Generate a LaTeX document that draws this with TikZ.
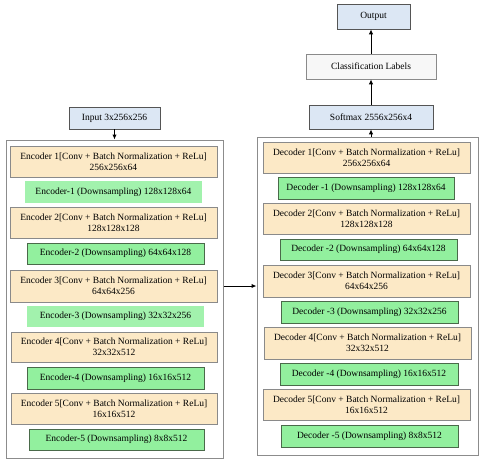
\documentclass[tikz,border=0pt]{standalone}
\usepackage{fontspec}
\setmainfont{Liberation Serif}
\usetikzlibrary{arrows.meta}
\definecolor{encfill}{HTML}{FCE9C6}
\definecolor{encdraw}{HTML}{8A8A8A}
\definecolor{grnfill}{HTML}{92F09E}
\definecolor{grndraw}{HTML}{4A6A4A}
\definecolor{blufill}{HTML}{DCE7F4}
\definecolor{bludraw}{HTML}{555555}
\definecolor{outdraw}{HTML}{8C8C8C}
\tikzset{
  base/.style={inner sep=0pt, align=center, font=\fontsize{9.5}{11}\selectfont},
  enc/.style={base, fill=encfill, draw=encdraw, line width=0.7pt, minimum width=207pt, minimum height=31pt},
  grn/.style={base, fill=grnfill, draw=grndraw, line width=0.6pt, minimum width=177pt, minimum height=22pt},
  grnlite/.style={base, fill=grnfill!85!white, draw=none, minimum width=177pt, minimum height=22pt},
  blu/.style={base, fill=blufill, draw=bludraw, line width=0.7pt},
  outer/.style={draw=outdraw, line width=1pt, fill=white, inner sep=0pt},
  arr/.style={-{Latex[length=5pt,width=4.5pt]}, line width=1pt, black}
}
\begin{document}
\begin{tikzpicture}[x=1pt,y=-1pt]
\useasboundingbox (0,0) rectangle (480,459);
% left column
\node[outer, minimum width=217pt, minimum height=318pt] (outerL) at (114.5,299) {};
\node[blu, minimum width=91pt, minimum height=22pt] (input) at (114.5,118) {Input 3x256x256};
\node[enc] (e1) at (113.5,161.5) {Encoder 1[Conv + Batch Normalization + ReLu]\\256x256x64};
\node[grnlite] (g1) at (113.5,192) {Encoder-1 (Downsampling) 128x128x64};
\node[enc] (e2) at (113.5,222.5) {Encoder 2[Conv + Batch Normalization + ReLu]\\128x128x128};
\node[grn, minimum height=21pt] (g2) at (115.5,253.5) {Encoder-2 (Downsampling) 64x64x128};
\node[enc, minimum height=32pt] (e3) at (113.5,286) {Encoder 3[Conv + Batch Normalization + ReLu]\\64x64x256};
\node[grnlite, minimum height=21pt] (g3) at (115.5,316.5) {Encoder-3 (Downsampling) 32x32x256};
\node[enc, minimum width=206pt, minimum height=30pt] (e4) at (114,347) {Encoder 4[Conv + Batch Normalization + ReLu]\\32x32x512};
\node[grn] (g4) at (115.5,378) {Encoder-4 (Downsampling) 16x16x512};
\node[enc, minimum width=206pt] (e5) at (114,408.5) {Encoder 5[Conv + Batch Normalization + ReLu]\\16x16x512};
\node[grn, minimum width=175pt, minimum height=21pt] (g5) at (116.5,439.5) {Encoder-5 (Downsampling) 8x8x512};
% right column
\node[outer, minimum width=221pt, minimum height=318pt] (outerR) at (367.5,296) {};
\node[blu, minimum width=73pt, minimum height=25pt] (output) at (373.5,16.5) {Output};
\node[base, fill=gray!6, draw=encdraw, line width=0.7pt, minimum width=130pt, minimum height=25pt] (class) at (371,66.5) {Classification Labels};
\node[blu, minimum width=124pt, minimum height=24pt] (softmax) at (371,117) {Softmax 2556x256x4};
\node[enc] (d1) at (366.5,157.5) {Decoder 1[Conv + Batch Normalization + ReLu]\\256x256x64};
\node[grn, minimum width=176pt] (dg1) at (366,188) {Decoder -1 (Downsampling) 128x128x64};
\node[enc] (d2) at (366.5,218.5) {Decoder 2[Conv + Batch Normalization + ReLu]\\128x128x128};
\node[grn, minimum height=21pt] (dg2) at (368.5,249.5) {Decoder -2 (Downsampling) 64x64x128};
\node[enc, minimum height=32pt] (d3) at (366.5,281) {Decoder 3[Conv + Batch Normalization + ReLu]\\64x64x256};
\node[grn] (dg3) at (369.5,312) {Decoder -3 (Downsampling) 32x32x256};
\node[enc, minimum height=32pt] (d4) at (367.5,343) {Decoder 4[Conv + Batch Normalization + ReLu]\\32x32x512};
\node[grn, minimum width=178pt] (dg4) at (369,374) {Decoder -4 (Downsampling) 16x16x512};
\node[enc] (d5) at (366.5,404.5) {Decoder 5[Conv + Batch Normalization + ReLu]\\16x16x512};
\node[grn] (dg5) at (369.5,436) {Decoder -5 (Downsampling) 8x8x512};
% connectors
\draw[arr] (input.south) -- (outerL.north);
\draw[arr] (e3 -| outerL.east) -- (e3 -| outerR.west);
\draw[arr] (outerR.north -| softmax.south) -- (softmax.south);
\draw[arr] (softmax.north) -- (class.south);
\draw[arr] (class.north) -- (output.south -| class.north);
\end{tikzpicture}
\end{document}
